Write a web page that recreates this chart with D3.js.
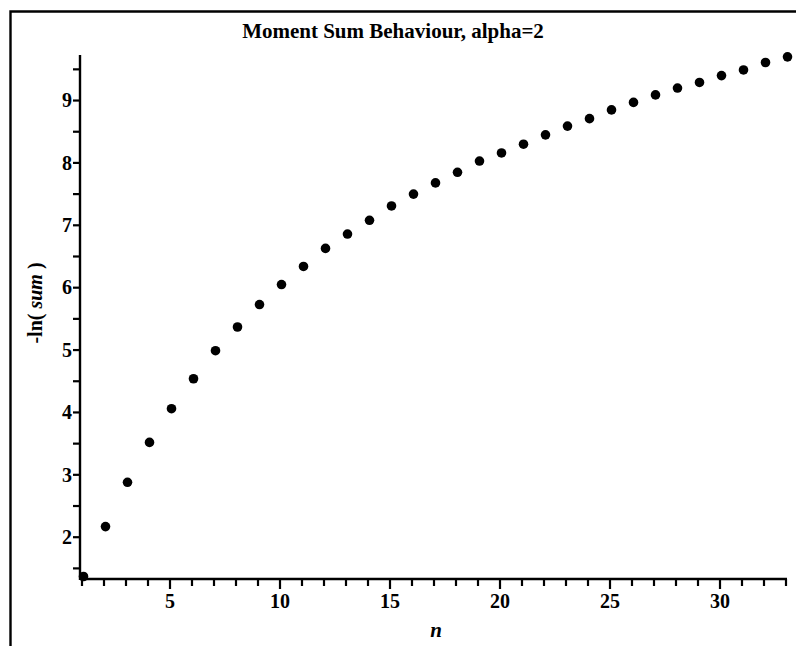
<!DOCTYPE html>
<html>
<head>
<meta charset="utf-8">
<script src="https://cdn.jsdelivr.net/npm/d3@7"></script>
<style>
  body { margin: 0; background: #fff; }
  svg { display: block; }
  text { font-family: "Liberation Serif", "Times New Roman", serif; font-weight: bold; fill: #000; }
</style>
</head>
<body>
<svg id="chart"></svg>
<script>
// Data: n and -ln(sum)
const nValues = [1, 2, 3, 4, 5, 6, 7, 8, 9, 10, 11, 12, 13, 14, 15, 16, 17,
                 18, 19, 20, 21, 22, 23, 24, 25, 26, 27, 28, 29, 30, 31, 32, 33];
const lnSum = [1.37, 2.17, 2.88, 3.52, 4.06, 4.54, 4.99, 5.37, 5.73, 6.05, 6.34,
               6.63, 6.86, 7.08, 7.31, 7.50, 7.68, 7.85, 8.03, 8.16, 8.30, 8.45,
               8.59, 8.71, 8.85, 8.97, 9.09, 9.20, 9.29, 9.40, 9.49, 9.61, 9.70];
const xTicks = [5, 10, 15, 20, 25, 30];
const yTicks = [2, 3, 4, 5, 6, 7, 8, 9];
const title = "Moment Sum Behaviour, alpha=2";

const W = 796, H = 646;

const svg = d3.select("#chart")
    .attr("width", W)
    .attr("height", H);

// frame (left and top edges only are visible)
svg.append("path")
    .attr("d", "M10.5," + H + "V11.5H" + W)
    .attr("fill", "none")
    .attr("stroke", "#000")
    .attr("stroke-width", 2.4);

// scales
const x = d3.scaleLinear().domain([1, 33]).range([82, 786]);
const y = d3.scaleLinear().domain([1.33, 9.73]).range([579, 55]);

// x axis
const gx = svg.append("g").attr("transform", "translate(0,579)");
gx.append("line")
    .attr("x1", 80).attr("x2", 787)
    .attr("stroke", "#000").attr("stroke-width", 2.4);
gx.selectAll(".minor")
    .data(d3.range(1, 34))
    .join("line")
    .attr("x1", d => x(d)).attr("x2", d => x(d))
    .attr("y1", 0).attr("y2", d => xTicks.includes(d) ? 10 : 7)
    .attr("stroke", "#000").attr("stroke-width", 2.2);
gx.selectAll(".lbl")
    .data(xTicks)
    .join("text")
    .attr("x", d => x(d))
    .attr("y", 29)
    .attr("text-anchor", "middle")
    .attr("font-size", 20)
    .text(d => d);

// y axis
const gy = svg.append("g").attr("transform", "translate(80,0)");
gy.append("line")
    .attr("y1", 55).attr("y2", 580)
    .attr("stroke", "#000").attr("stroke-width", 2.4);
gy.selectAll(".minor")
    .data(d3.range(1.5, 9.6, 0.5))
    .join("line")
    .attr("x1", -7).attr("x2", 0)
    .attr("y1", d => y(d)).attr("y2", d => y(d))
    .attr("stroke", "#000").attr("stroke-width", 2.2);
gy.selectAll(".lbl")
    .data(yTicks)
    .join("text")
    .attr("x", -8)
    .attr("y", d => y(d))
    .attr("dy", "0.34em")
    .attr("text-anchor", "end")
    .attr("font-size", 20)
    .text(d => d);

// points
svg.append("g")
    .selectAll("circle")
    .data(nValues)
    .join("circle")
    .attr("cx", d => x(d) + 1.5)
    .attr("cy", (d, i) => y(lnSum[i]))
    .attr("r", 4.8)
    .attr("fill", "#000");

// title
svg.append("text")
    .attr("x", 393)
    .attr("y", 38)
    .attr("text-anchor", "middle")
    .attr("font-size", 21)
    .text(title);

// axis labels
svg.append("text")
    .attr("x", 436)
    .attr("y", 637)
    .attr("text-anchor", "middle")
    .attr("font-size", 21)
    .attr("font-style", "italic")
    .text("n");

const yl = svg.append("text")
    .attr("transform", "translate(42,303) rotate(-90)")
    .attr("text-anchor", "middle")
    .attr("font-size", 20);
yl.append("tspan").text("-ln( ");
yl.append("tspan").attr("font-style", "italic").text("sum");
yl.append("tspan").text(" )");
</script>
</body>
</html>
